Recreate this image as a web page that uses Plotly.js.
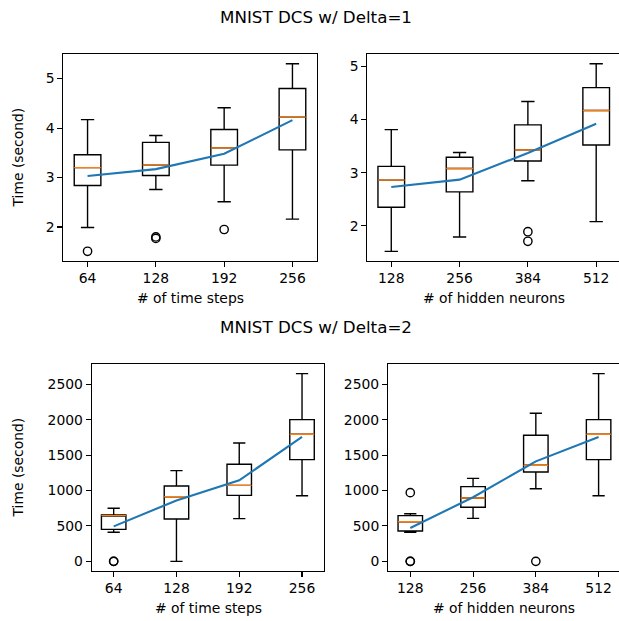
<!DOCTYPE html>
<html><head><meta charset="utf-8">
<script src="https://cdn.plot.ly/plotly-3.0.1.min.js"></script>
<style>html,body{margin:0;padding:0;background:#fff}#chart{width:619px;height:621px}</style>
</head><body><div id="chart"></div>
<script>
// ---------- data ----------
const positions = [1, 2, 3, 4];
const stepsLabels = ['64', '128', '192', '256'];
const neuronsLabels = ['128', '256', '384', '512'];

// Delta=1, # of time steps
const d1StepsLow  = [1.99, 2.76, 2.51, 2.16];
const d1StepsQ1   = [2.84, 3.04, 3.25, 3.56];
const d1StepsMed  = [3.20, 3.25, 3.60, 4.22];
const d1StepsQ3   = [3.46, 3.71, 3.97, 4.80];
const d1StepsHigh = [4.17, 3.85, 4.41, 5.30];
const d1StepsMean = [3.03, 3.17, 3.48, 4.16];
const d1StepsOutPos = [1, 2, 2, 3];
const d1StepsOutVal = [1.51, 1.77, 1.80, 1.95];

// Delta=1, # of hidden neurons
const d1NeurLow  = [1.52, 1.79, 2.85, 2.08];
const d1NeurQ1   = [2.35, 2.64, 3.22, 3.52];
const d1NeurMed  = [2.86, 3.08, 3.43, 4.17];
const d1NeurQ3   = [3.12, 3.29, 3.90, 4.60];
const d1NeurHigh = [3.81, 3.38, 4.34, 5.05];
const d1NeurMean = [2.73, 2.87, 3.37, 3.92];
const d1NeurOutPos = [3, 3];
const d1NeurOutVal = [1.89, 1.71];

// Delta=2, # of time steps
const d2StepsLow  = [410, 0, 603, 927];
const d2StepsQ1   = [452, 598, 932, 1436];
const d2StepsMed  = [645, 913, 1073, 1794];
const d2StepsQ3   = [655, 1064, 1370, 2001];
const d2StepsHigh = [749, 1281, 1671, 2651];
const d2StepsMean = [494, 860, 1144, 1756];
const d2StepsOutPos = [1, 1];
const d2StepsOutVal = [0, 0];

// Delta=2, # of hidden neurons
const d2NeurLow  = [410, 607, 1026, 927];
const d2NeurQ1   = [428, 763, 1262, 1436];
const d2NeurMed  = [560, 895, 1356, 1794];
const d2NeurQ3   = [645, 1055, 1780, 2001];
const d2NeurHigh = [673, 1172, 2090, 2651];
const d2NeurMean = [471, 905, 1412, 1756];
const d2NeurOutPos = [1, 1, 1, 3];
const d2NeurOutVal = [970, 0, 0, 0];

// ---------- layout helpers ----------
const W = 619, H = 621;
const BOXW = 0.39;
const FONT = 'DejaVu Sans, Liberation Sans, sans-serif';
const px = v => v / W;
const py = v => 1 - v / H;

const panels = [
  {low: d1StepsLow, q1: d1StepsQ1, med: d1StepsMed, q3: d1StepsQ3, high: d1StepsHigh, mean: d1StepsMean,
   outPos: d1StepsOutPos, outVal: d1StepsOutVal, labels: stepsLabels,
   xdom: [63.3, 316.7], ydom: [54.3, 260.7], yr: [1.32, 5.49], dtick: 1, xr: [0.645, 4.355], left: true},
  {low: d1NeurLow, q1: d1NeurQ1, med: d1NeurMed, q3: d1NeurQ3, high: d1NeurHigh, mean: d1NeurMean,
   outPos: d1NeurOutPos, outVal: d1NeurOutVal, labels: neuronsLabels,
   xdom: [367.3, 619], ydom: [54.3, 260.7], yr: [1.345, 5.227], dtick: 1, xr: [0.649, 4.334], left: false},
  {low: d2StepsLow, q1: d2StepsQ1, med: d2StepsMed, q3: d2StepsQ3, high: d2StepsHigh, mean: d2StepsMean,
   outPos: d2StepsOutPos, outVal: d2StepsOutVal, labels: stepsLabels,
   xdom: [91.7, 324], ydom: [364.3, 570.7], yr: [-132, 2782], dtick: 500, xr: [0.65, 4.35], left: true},
  {low: d2NeurLow, q1: d2NeurQ1, med: d2NeurMed, q3: d2NeurQ3, high: d2NeurHigh, mean: d2NeurMean,
   outPos: d2NeurOutPos, outVal: d2NeurOutVal, labels: neuronsLabels,
   xdom: [388, 619], ydom: [364.3, 570.7], yr: [-132, 2782], dtick: 500, xr: [0.645, 4.325], left: false}
];

const traces = [];
const layout = {
  width: W, height: H, margin: {l: 0, r: 0, t: 0, b: 0},
  paper_bgcolor: '#fff', plot_bgcolor: '#fff', showlegend: false,
  font: {family: FONT, size: 13.9, color: '#000'},
  annotations: []
};

panels.forEach((p, i) => {
  const n = i + 1;
  const xa = 'x' + (n === 1 ? '' : n), ya = 'y' + (n === 1 ? '' : n);
  const xk = 'xaxis' + (n === 1 ? '' : n), yk = 'yaxis' + (n === 1 ? '' : n);
  traces.push({
    type: 'box', x: positions, q1: p.q1, median: p.med, q3: p.q3,
    lowerfence: p.low, upperfence: p.high, width: BOXW, whiskerwidth: 0.5,
    boxpoints: false, line: {color: '#000', width: 1.4}, fillcolor: 'rgba(0,0,0,0)',
    xaxis: xa, yaxis: ya, hoverinfo: 'skip'
  });
  // orange medians
  const mx = [], my = [];
  positions.forEach((pos, k) => { mx.push(pos - BOXW / 2, pos + BOXW / 2, null); my.push(p.med[k], p.med[k], null); });
  traces.push({type: 'scatter', mode: 'lines', x: mx, y: my, line: {color: '#ff7f0e', width: 1.4},
    xaxis: xa, yaxis: ya, hoverinfo: 'skip'});
  // outliers
  traces.push({type: 'scatter', mode: 'markers', x: p.outPos, y: p.outVal,
    marker: {symbol: 'circle-open', size: 8.3, color: '#000', line: {width: 1.4}},
    xaxis: xa, yaxis: ya, hoverinfo: 'skip', cliponaxis: false});
  // mean line
  traces.push({type: 'scatter', mode: 'lines', x: positions, y: p.mean,
    line: {color: '#1f77b4', width: 2.1}, xaxis: xa, yaxis: ya, hoverinfo: 'skip'});

  layout[xk] = {
    domain: [px(p.xdom[0]), px(p.xdom[1])], range: p.xr, anchor: ya,
    tickmode: 'array', tickvals: positions, ticktext: p.labels,
    showgrid: false, zeroline: false, showline: true, linecolor: '#000', linewidth: 1.1, mirror: true,
    ticks: 'outside', ticklen: 4.9, tickwidth: 1.1, tickcolor: '#000',
    tickfont: {family: FONT, size: 13.9, color: '#000'}, fixedrange: true
  };
  layout[yk] = {
    domain: [py(p.ydom[1]), py(p.ydom[0])], range: p.yr, anchor: xa, dtick: p.dtick, tick0: 0,
    showgrid: false, zeroline: false, showline: true, linecolor: '#000', linewidth: 1.1, mirror: p.left,
    ticks: 'outside', ticklen: 4.9, tickwidth: 1.1, tickcolor: '#000',
    tickfont: {family: FONT, size: 13.9, color: '#000'}, fixedrange: true
  };
  // x label
  layout.annotations.push({
    text: p.labels === stepsLabels ? '# of time steps' : '# of hidden neurons',
    xref: 'paper', yref: 'paper', x: px((p.xdom[0] + Math.min(p.xdom[1] + 1.7, 620.7)) / 2),
    y: py((p.ydom[1]) + 37.5), xanchor: 'center', yanchor: 'middle', showarrow: false,
    font: {family: FONT, size: 13.9, color: '#000'}
  });
  if (p.left) {
    layout.annotations.push({
      text: 'Time (second)', textangle: -90,
      xref: 'paper', yref: 'paper', x: px(17), y: py((p.ydom[0] + p.ydom[1]) / 2),
      xanchor: 'center', yanchor: 'middle', showarrow: false,
      font: {family: FONT, size: 13.9, color: '#000'}
    });
  }
});

layout.annotations.push({text: 'MNIST DCS w/ Delta=1', xref: 'paper', yref: 'paper', x: px(316), y: py(17),
  xanchor: 'center', yanchor: 'middle', showarrow: false, font: {family: FONT, size: 16.7, color: '#000'}});
layout.annotations.push({text: 'MNIST DCS w/ Delta=2', xref: 'paper', yref: 'paper', x: px(316), y: py(327),
  xanchor: 'center', yanchor: 'middle', showarrow: false, font: {family: FONT, size: 16.7, color: '#000'}});

Plotly.newPlot('chart', traces, layout, {staticPlot: true, displayModeBar: false});
</script>
</body></html>
